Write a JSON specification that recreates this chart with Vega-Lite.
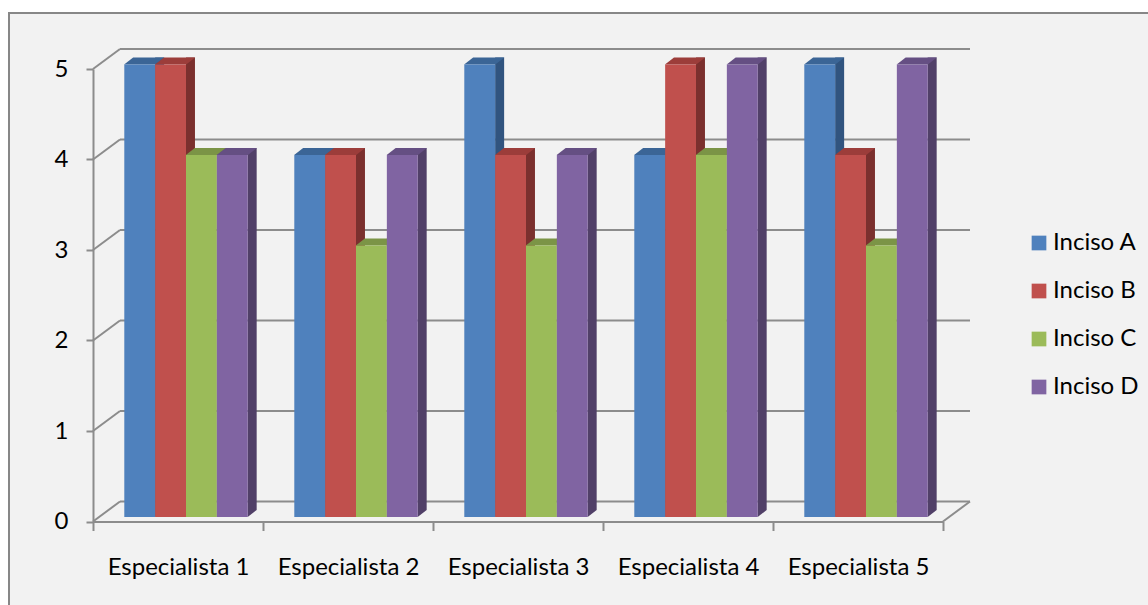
{
  "$schema": "https://vega.github.io/schema/vega-lite/v6.json",
  "width": 1145,
  "height": 598,
  "autosize": {"type": "none"},
  "padding": {"left": 9, "top": 13, "right": -6, "bottom": -6},
  "background": "#ffffff",
  "config": {
    "view": {"fill": "#f2f2f2", "stroke": "#878787", "strokeWidth": 2},
    "font": "Lato",
    "axis": {
      "domainColor": "#8c8c8c", "domainWidth": 2,
      "tickColor": "#8c8c8c", "tickWidth": 2,
      "labelFont": "Lato", "labelFontSize": 24, "labelColor": "#000000",
      "grid": false
    },
    "legend": {
      "orient": "none", "legendX": 1018, "legendY": 218,
      "symbolType": "square", "symbolSize": 216, "symbolStrokeWidth": 0,
      "labelFont": "Lato", "labelFontSize": 24, "labelColor": "#000000",
      "labelOffset": 2, "rowPadding": 24, "padding": 0
    }
  },
  "datasets": {
    "puntajes": [
      {"Especialista": "Especialista 1", "Inciso": "Inciso A", "Valor": 5},
      {"Especialista": "Especialista 1", "Inciso": "Inciso B", "Valor": 5},
      {"Especialista": "Especialista 1", "Inciso": "Inciso C", "Valor": 4},
      {"Especialista": "Especialista 1", "Inciso": "Inciso D", "Valor": 4},
      {"Especialista": "Especialista 2", "Inciso": "Inciso A", "Valor": 4},
      {"Especialista": "Especialista 2", "Inciso": "Inciso B", "Valor": 4},
      {"Especialista": "Especialista 2", "Inciso": "Inciso C", "Valor": 3},
      {"Especialista": "Especialista 2", "Inciso": "Inciso D", "Valor": 4},
      {"Especialista": "Especialista 3", "Inciso": "Inciso A", "Valor": 5},
      {"Especialista": "Especialista 3", "Inciso": "Inciso B", "Valor": 4},
      {"Especialista": "Especialista 3", "Inciso": "Inciso C", "Valor": 3},
      {"Especialista": "Especialista 3", "Inciso": "Inciso D", "Valor": 4},
      {"Especialista": "Especialista 4", "Inciso": "Inciso A", "Valor": 4},
      {"Especialista": "Especialista 4", "Inciso": "Inciso B", "Valor": 5},
      {"Especialista": "Especialista 4", "Inciso": "Inciso C", "Valor": 4},
      {"Especialista": "Especialista 4", "Inciso": "Inciso D", "Valor": 5},
      {"Especialista": "Especialista 5", "Inciso": "Inciso A", "Valor": 5},
      {"Especialista": "Especialista 5", "Inciso": "Inciso B", "Valor": 4},
      {"Especialista": "Especialista 5", "Inciso": "Inciso C", "Valor": 3},
      {"Especialista": "Especialista 5", "Inciso": "Inciso D", "Valor": 5}
    ],
    "escala": [{"v": 0}, {"v": 1}, {"v": 2}, {"v": 3}, {"v": 4}, {"v": 5}]
  },
  "resolve": {"scale": {"color": "independent", "xOffset": "independent"}},
  "layer": [
    {
      "data": {"name": "escala"},
      "mark": {"type": "rule", "color": "#8c8c8c", "strokeWidth": 2, "xOffset": 27, "x2Offset": 27, "yOffset": -20},
      "encoding": {
        "y": {"field": "v", "type": "quantitative", "title": null},
        "x": {"datum": "Especialista 1", "bandPosition": 0},
        "x2": {"datum": "Especialista 5", "bandPosition": 1}
      }
    },
    {
      "data": {"name": "escala"},
      "mark": {"type": "rule", "color": "#8c8c8c", "strokeWidth": 2, "x2Offset": 27, "y2Offset": -20},
      "encoding": {
        "y": {"field": "v", "type": "quantitative", "title": null},
        "y2": {"field": "v"},
        "x": {"datum": "Especialista 1", "bandPosition": 0},
        "x2": {"datum": "Especialista 1", "bandPosition": 0}
      }
    },
    {
      "data": {"values": [{"piso": 0}]},
      "mark": {"type": "rule", "color": "#8c8c8c", "strokeWidth": 2, "x2Offset": 27, "y2Offset": -20},
      "encoding": {
        "y": {"field": "piso", "type": "quantitative", "title": null},
        "y2": {"field": "piso"},
        "x": {"datum": "Especialista 5", "bandPosition": 1},
        "x2": {"datum": "Especialista 5", "bandPosition": 1}
      }
    },
    {
      "data": {"name": "puntajes"},
      "mark": {"type": "bar", "width": 9, "yOffset": -11.5, "y2Offset": -11.5},
      "encoding": {
        "x": {"field": "Especialista", "type": "nominal", "title": null},
        "xOffset": {"field": "Inciso", "type": "nominal",
          "scale": {"type": "band", "range": [51.2, 174.6], "paddingInner": 0, "paddingOuter": 0}},
        "y": {"field": "Valor", "type": "quantitative", "title": null},
        "color": {"field": "Inciso", "type": "nominal", "legend": null,
          "scale": {"range": ["#31547f", "#7b302e", "#637b39", "#514068"]}}
      }
    },
    {
      "data": {"name": "puntajes"},
      "mark": {"type": "point", "shape": "M15.4,-7L15.4,0L24.4,-7Z", "size": 4, "filled": true, "opacity": 1, "strokeWidth": 0, "yOffset": -4.5},
      "encoding": {
        "x": {"field": "Especialista", "type": "nominal", "title": null},
        "xOffset": {"field": "Inciso", "type": "nominal",
          "scale": {"type": "band", "range": [31.3, 154.7], "paddingInner": 0, "paddingOuter": 0}},
        "y": {"datum": 0},
        "color": {"field": "Inciso", "type": "nominal", "legend": null,
          "scale": {"range": ["#31547f", "#7b302e", "#637b39", "#514068"]}}
      }
    },
    {
      "data": {"name": "puntajes"},
      "mark": {"type": "point", "shape": "M-15.6,0L15.6,0L24.6,-7L-6.6,-7Z", "size": 4, "filled": true, "opacity": 1, "strokeWidth": 0, "yOffset": -4.5},
      "encoding": {
        "x": {"field": "Especialista", "type": "nominal", "title": null},
        "xOffset": {"field": "Inciso", "type": "nominal",
          "scale": {"type": "band", "range": [31.3, 154.7], "paddingInner": 0, "paddingOuter": 0}},
        "y": {"field": "Valor", "type": "quantitative", "title": null},
        "color": {"field": "Inciso", "type": "nominal", "legend": null,
          "scale": {"range": ["#3b6596", "#9c3d3a", "#7b9446", "#654f83"]}}
      }
    },
    {
      "data": {"name": "puntajes"},
      "mark": {"type": "bar", "yOffset": -4.5, "y2Offset": -4.5},
      "encoding": {
        "x": {
          "field": "Especialista", "type": "nominal", "title": null,
          "scale": {"range": [84, 934], "paddingInner": 0, "paddingOuter": 0},
          "axis": {"offset": -89.5, "tickBand": "extent", "tickSize": 9, "labelPadding": 43.5, "labelBaseline": "alphabetic", "labelAlign": "center", "labelAngle": 0}
        },
        "xOffset": {"field": "Inciso", "type": "nominal",
          "scale": {"type": "band", "range": [31.3, 154.7], "paddingInner": 0, "paddingOuter": 0}},
        "y": {
          "field": "Valor", "type": "quantitative", "title": null,
          "scale": {"domain": [0, 5], "range": [508.5, 56], "nice": false},
          "axis": {"offset": -84, "values": [0, 1, 2, 3, 4, 5], "format": "d", "tickSize": 7, "labelPadding": 18}
        },
        "color": {"field": "Inciso", "type": "nominal", "title": null,
          "scale": {"range": ["#4f81bd", "#c0504d", "#9bbb59", "#8064a2"]}}
      }
    }
  ]
}
